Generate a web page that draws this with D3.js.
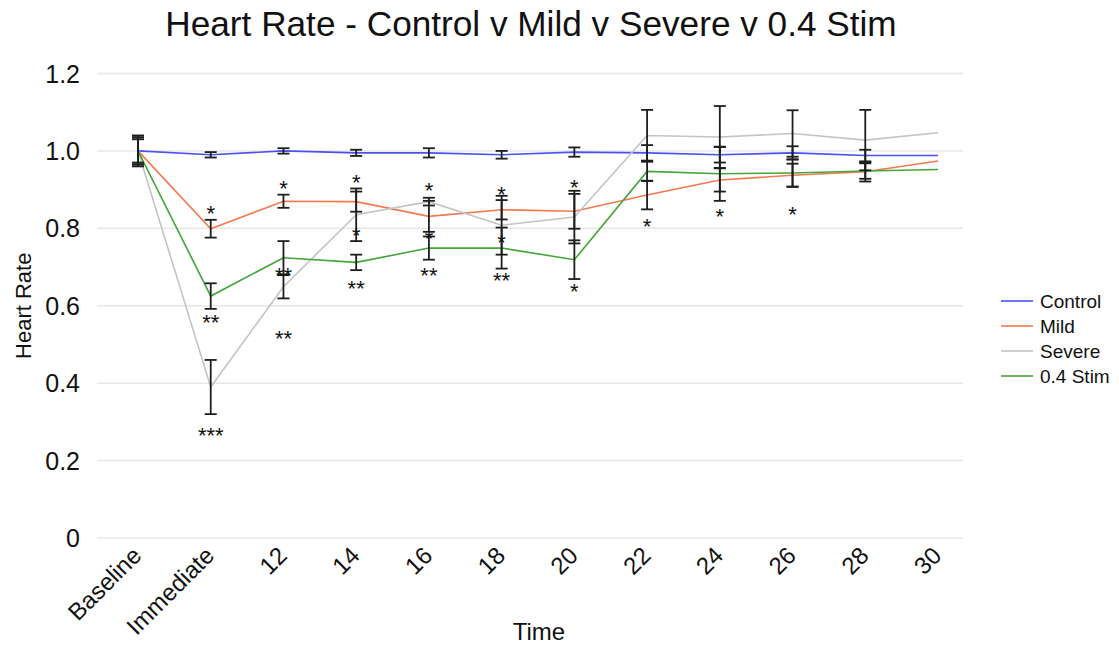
<!DOCTYPE html>
<html>
<head>
<meta charset="utf-8">
<script src="https://cdn.jsdelivr.net/npm/d3@7"></script>
<style>
  body { margin: 0; background: #fff; }
  text { font-family: "Liberation Sans", Arial, sans-serif; fill: #111; }
</style>
</head>
<body>
<div id="chart"></div>
<script>
// Categories along the x axis
const categories = ["Baseline", "Immediate", "12", "14", "16", "18", "20", "22", "24", "26", "28", "30"];

// Series values
const control = [1.0, 0.99, 1.0, 0.995, 0.995, 0.99, 0.997, 0.995, 0.99, 0.995, 0.988, 0.988];
const mild    = [1.0, 0.799, 0.87, 0.869, 0.831, 0.848, 0.844, 0.886, 0.925, 0.937, 0.946, 0.974];
const severe  = [1.0, 0.39, 0.649, 0.835, 0.869, 0.808, 0.829, 1.04, 1.036, 1.045, 1.028, 1.047];
const stim    = [1.0, 0.625, 0.724, 0.712, 0.749, 0.749, 0.719, 0.947, 0.941, 0.943, 0.948, 0.952];

// Error bar half-widths (null = no bar)
const controlErr = [0.04, 0.007, 0.007, 0.008, 0.012, 0.01, 0.012, 0.02, 0.02, 0.017, 0.015, null];
const mildErr    = [0.035, 0.023, 0.017, 0.026, 0.04, 0.025, 0.045, 0.037, 0.03, 0.03, 0.025, null];
const severeErr  = [0.03, 0.07, 0.03, 0.068, 0.01, 0.076, 0.068, 0.066, 0.08, 0.06, 0.078, null];
const stimErr    = [0.035, 0.033, 0.043, 0.02, 0.03, 0.053, 0.05, 0.025, 0.07, 0.035, 0.02, null];

// Significance markers
const starCats   = ["Immediate", "Immediate", "Immediate", "12", "12", "12", "14", "14", "14",
                    "16", "16", "16", "18", "18", "18", "20", "20", "22", "24", "26"];
const starLevels = [0.852, 0.571, 0.279, 0.916, 0.692, 0.529, 0.933, 0.795, 0.66,
                    0.912, 0.788, 0.692, 0.902, 0.777, 0.679, 0.919, 0.651, 0.819, 0.846, 0.851];
const starTexts  = ["*", "**", "***", "*", "**", "**", "*", "*", "**",
                    "*", "*", "**", "*", "*", "**", "*", "*", "*", "*", "*"];

const yTicks = [0, 0.2, 0.4, 0.6, 0.8, 1.0, 1.2];

const seriesNames = ["Control", "Mild", "Severe", "0.4 Stim"];
const seriesColors = ["#4a52f5", "#f4794f", "#c4c4c4", "#43a53a"];
const seriesValues = [control, mild, severe, stim];
const seriesErrors = [controlErr, mildErr, severeErr, stimErr];

const width = 1119;
const height = 645;

const svg = d3.select("#chart")
    .append("svg")
    .attr("width", width)
    .attr("height", height);

const x = d3.scalePoint()
    .domain(categories)
    .range([138, 938]);

const y = d3.scaleLinear()
    .domain([0, 1.2])
    .range([538, 73.5]);

const gridLeft = 97, gridRight = 963;

// Gridlines
svg.append("g")
    .selectAll("line")
    .data(yTicks)
    .join("line")
    .attr("x1", gridLeft)
    .attr("x2", gridRight)
    .attr("y1", d => y(d))
    .attr("y2", d => y(d))
    .attr("stroke", "#e8e8e8")
    .attr("stroke-width", 1.5);

// Y tick labels
svg.append("g")
    .selectAll("text")
    .data(yTicks)
    .join("text")
    .attr("x", 80)
    .attr("y", d => y(d))
    .attr("dy", "0.36em")
    .attr("text-anchor", "end")
    .attr("font-size", 25)
    .text(d => d === 0 ? "0" : d3.format(".1f")(d));

// X tick labels (rotated)
svg.append("g")
    .selectAll("text")
    .data(categories)
    .join("text")
    .attr("text-anchor", "end")
    .attr("font-size", 24)
    .attr("transform", d => `translate(${x(d) + 5},${557}) rotate(-45)`)
    .text(d => d);

// Title and axis titles
svg.append("text")
    .attr("x", 531)
    .attr("y", 36)
    .attr("text-anchor", "middle")
    .attr("font-size", 35.2)
    .text("Heart Rate - Control v Mild v Severe v 0.4 Stim");

svg.append("text")
    .attr("x", 539)
    .attr("y", 640)
    .attr("text-anchor", "middle")
    .attr("font-size", 24)
    .text("Time");

svg.append("text")
    .attr("transform", `translate(31,${(y(0) + y(1.2)) / 2}) rotate(-90)`)
    .attr("text-anchor", "middle")
    .attr("font-size", 22)
    .text("Heart Rate");

// Series lines
const line = d3.line()
    .x((d, i) => x(categories[i]))
    .y(d => y(d));

svg.append("g")
    .selectAll("path")
    .data(seriesValues)
    .join("path")
    .attr("d", d => line(d))
    .attr("fill", "none")
    .attr("stroke", (d, i) => seriesColors[i])
    .attr("stroke-width", 1.6);

// Error bars
const bars = [];
seriesValues.forEach((vals, s) => {
    vals.forEach((v, i) => {
        const e = seriesErrors[s][i];
        if (e != null) bars.push({ cat: categories[i], lo: v - e, hi: v + e });
    });
});

const capW = 6;
const eb = svg.append("g")
    .attr("stroke", "#1e1e1e")
    .attr("stroke-width", 1.8);

eb.selectAll("line.stem")
    .data(bars)
    .join("line")
    .attr("class", "stem")
    .attr("x1", d => x(d.cat))
    .attr("x2", d => x(d.cat))
    .attr("y1", d => y(d.lo))
    .attr("y2", d => y(d.hi));

eb.selectAll("line.capHi")
    .data(bars)
    .join("line")
    .attr("class", "capHi")
    .attr("x1", d => x(d.cat) - capW)
    .attr("x2", d => x(d.cat) + capW)
    .attr("y1", d => y(d.hi))
    .attr("y2", d => y(d.hi));

eb.selectAll("line.capLo")
    .data(bars)
    .join("line")
    .attr("class", "capLo")
    .attr("x1", d => x(d.cat) - capW)
    .attr("x2", d => x(d.cat) + capW)
    .attr("y1", d => y(d.lo))
    .attr("y2", d => y(d.lo));

// Significance stars
svg.append("g")
    .selectAll("text")
    .data(starTexts)
    .join("text")
    .attr("x", (d, i) => x(starCats[i]))
    .attr("y", (d, i) => y(starLevels[i]) + 13)
    .attr("text-anchor", "middle")
    .attr("font-size", 22)
    .text(d => d);

// Legend
const legend = svg.append("g")
    .selectAll("g")
    .data(seriesNames)
    .join("g")
    .attr("transform", (d, i) => `translate(1001,${301 + i * 25})`);

legend.append("line")
    .attr("x1", 0)
    .attr("x2", 32)
    .attr("stroke", (d, i) => seriesColors[i])
    .attr("stroke-width", 1.6);

legend.append("text")
    .attr("x", 39)
    .attr("dy", "0.35em")
    .attr("font-size", 19)
    .text(d => d);
</script>
</body>
</html>
